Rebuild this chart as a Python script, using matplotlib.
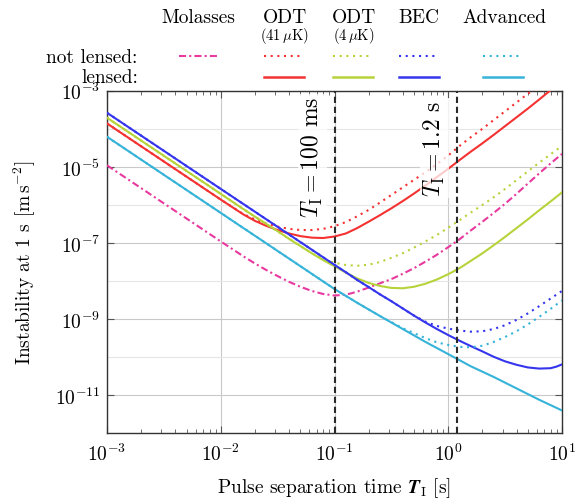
import matplotlib
matplotlib.use('Agg')
import numpy as np
import matplotlib.pyplot as plt
from matplotlib.lines import Line2D
from matplotlib.ticker import FixedLocator, LogLocator, NullFormatter

plt.rcParams['font.family'] = ['cmr10', 'DejaVu Serif']
plt.rcParams['mathtext.fontset'] = 'cm'
plt.rcParams['axes.formatter.use_mathtext'] = True
plt.rcParams['font.size'] = 14

# ---------------- data ----------------
# x: pulse separation time [s]; y given as log10 of the instability [m s^-2]
mol_x = [0.001, 0.01, 0.0158, 0.02, 0.0251, 0.0316, 0.0398, 0.0501, 0.0631, 0.0794, 0.1, 0.126, 0.158,
         0.2, 0.251, 0.316, 0.398, 0.501, 0.631, 0.794, 1.0, 1.26, 1.58, 2.0, 2.51, 3.16, 3.98, 5.01,
         6.31, 7.94, 10]
mol_log10y = [-4.96, -6.96, -7.35, -7.54, -7.71, -7.87, -8.02, -8.15, -8.26, -8.34, -8.38, -8.36, -8.28,
              -8.17, -8.06, -7.95, -7.81, -7.66, -7.49, -7.31, -7.11, -6.90, -6.67, -6.44, -6.21, -5.97,
              -5.71, -5.44, -5.17, -4.91, -4.66]

odt41_nl_x = [0.001, 0.01, 0.0158, 0.02, 0.0251, 0.0316, 0.0398, 0.0501, 0.0631, 0.0794, 0.1, 0.126,
              0.158, 0.2, 0.251, 0.316, 0.398, 0.501, 0.631, 0.794, 1.0, 1.26, 1.58, 2.0, 2.51, 3.16,
              3.98, 5.01, 5.45]
odt41_nl_log10y = [-3.86, -5.86, -6.24, -6.38, -6.49, -6.57, -6.63, -6.66, -6.66, -6.63, -6.56, -6.45,
                   -6.30, -6.13, -5.94, -5.74, -5.54, -5.34, -5.14, -4.93, -4.70, -4.45, -4.22, -4.00,
                   -3.77, -3.54, -3.31, -3.08, -3.0]
odt41_l_x = [0.001, 0.01, 0.0158, 0.02, 0.0251, 0.0316, 0.0398, 0.0501, 0.0631, 0.0794, 0.1, 0.126,
             0.158, 0.2, 0.251, 0.316, 0.398, 0.501, 0.631, 0.794, 1.0, 1.26, 1.58, 2.0, 2.51, 3.16,
             3.98, 5.01, 6.31, 7.83]
odt41_l_log10y = [-3.86, -5.86, -6.25, -6.42, -6.55, -6.66, -6.75, -6.82, -6.86, -6.87, -6.83, -6.75,
                  -6.61, -6.44, -6.27, -6.09, -5.90, -5.70, -5.49, -5.27, -5.05, -4.82, -4.60, -4.38,
                  -4.16, -3.93, -3.70, -3.47, -3.23, -3.0]

odt4_nl_x = [0.001, 0.01, 0.0158, 0.0251, 0.0398, 0.0631, 0.0794, 0.1, 0.126, 0.158, 0.2, 0.251, 0.316,
             0.398, 0.501, 0.631, 0.794, 1.0, 1.26, 1.58, 2.0, 2.51, 3.16, 3.98, 5.01, 6.31, 7.94, 10]
odt4_nl_log10y = [-3.71, -5.71, -6.11, -6.50, -6.89, -7.27, -7.42, -7.52, -7.58, -7.60, -7.57, -7.50,
                  -7.39, -7.27, -7.12, -6.96, -6.79, -6.60, -6.40, -6.20, -6.00, -5.80, -5.58, -5.35,
                  -5.12, -4.89, -4.67, -4.45]
odt4_l_x = [0.001, 0.01, 0.0158, 0.0251, 0.0316, 0.0398, 0.0501, 0.0631, 0.0794, 0.1, 0.126, 0.158, 0.2,
            0.251, 0.316, 0.398, 0.501, 0.631, 0.794, 1.0, 1.26, 1.58, 2.0, 2.51, 3.16, 3.98, 5.01, 6.31,
            7.94, 10]
odt4_l_log10y = [-3.71, -5.71, -6.11, -6.50, -6.69, -6.89, -7.08, -7.27, -7.45, -7.61, -7.78, -7.93,
                 -8.05, -8.13, -8.18, -8.19, -8.15, -8.07, -7.96, -7.82, -7.66, -7.47, -7.27, -7.06,
                 -6.84, -6.61, -6.38, -6.14, -5.91, -5.67]

bec_nl_x = [0.001, 0.01, 0.1, 0.126, 0.158, 0.2, 0.251, 0.316, 0.398, 0.501, 0.631, 0.794, 1.0, 1.26,
            1.58, 2.0, 2.51, 3.16, 3.98, 5.01, 6.31, 7.94, 10]
bec_nl_log10y = [-3.58, -5.58, -7.575, -7.77, -7.97, -8.16, -8.35, -8.53, -8.72, -8.91, -9.07, -9.18,
                 -9.25, -9.30, -9.33, -9.32, -9.26, -9.16, -9.02, -8.85, -8.66, -8.46, -8.26]
bec_l_x = [0.001, 0.01, 0.1, 0.126, 0.158, 0.2, 0.251, 0.316, 0.398, 0.501, 0.631, 0.794, 1.0, 1.26,
           1.58, 2.0, 2.51, 3.16, 3.98, 5.01, 6.31, 7.94, 8.91, 10]
bec_l_log10y = [-3.58, -5.58, -7.575, -7.77, -7.97, -8.16, -8.35, -8.53, -8.72, -8.91, -9.09, -9.26,
                -9.42, -9.57, -9.71, -9.85, -9.99, -10.11, -10.20, -10.27, -10.30, -10.29, -10.25, -10.19]

adv_nl_x = [0.001, 0.01, 0.1, 0.158, 0.251, 0.398, 0.501, 0.631, 0.794, 1.0, 1.26, 1.58, 2.0, 2.51,
            3.16, 3.98, 5.01, 6.31, 7.94, 10]
adv_nl_log10y = [-4.21, -6.21, -8.21, -8.57, -8.92, -9.24, -9.37, -9.50, -9.61, -9.68, -9.73, -9.74,
                 -9.70, -9.60, -9.47, -9.32, -9.14, -8.94, -8.73, -8.51]
adv_l_x = [0.001, 0.01, 0.1, 0.158, 0.251, 0.398, 0.631, 1.0, 1.58, 2.51, 3.98, 6.31, 10]
adv_l_log10y = [-4.21, -6.21, -8.21, -8.57, -8.92, -9.26, -9.60, -9.92, -10.24, -10.52, -10.82, -11.12,
                -11.40]

marker_times = [0.1, 1.2]
marker_labels = [r'$T_\mathrm{I} = 100$ ms', r'$T_\mathrm{I} = 1.2$ s']

col_headers = ['Molasses', 'ODT', 'ODT', 'BEC', 'Advanced']
col_subheaders = ['', r'(41$\,\mu$K)', r'(4$\,\mu$K)', '', '']
row_labels = ['not lensed:', 'lensed:']

y_major = [1e-11, 1e-9, 1e-7, 1e-5, 1e-3]
y_minor = [1e-12, 1e-10, 1e-8, 1e-6, 1e-4]

# ---------------- styles ----------------
C_MOL = '#e8399e'
C_RED = '#f43232'
C_GRN = '#b6d33a'
C_BLU = '#3535ee'
C_CYN = '#36b3d9'
LW = 1.5
DOT = (0, (1, 2.2))
DASHDOT = (0, (3.4, 1.5, 1, 1.5))

W, H = 581, 502
AX_L, AX_R, AX_T, AX_B = 107, 562, 91.7, 434.3
fig = plt.figure(figsize=(W / 100, H / 100), dpi=100)
ax = fig.add_axes([AX_L / W, 1 - AX_B / H, (AX_R - AX_L) / W, (AX_B - AX_T) / H])
ax.set_xscale('log')
ax.set_yscale('log')
ax.set_xlim(1e-3, 10)
ax.set_ylim(1e-12, 1e-3)

series = [
    (mol_x, mol_log10y, C_MOL, DASHDOT),
    (odt41_nl_x, odt41_nl_log10y, C_RED, DOT),
    (odt41_l_x, odt41_l_log10y, C_RED, '-'),
    (odt4_nl_x, odt4_nl_log10y, C_GRN, DOT),
    (odt4_l_x, odt4_l_log10y, C_GRN, '-'),
    (bec_nl_x, bec_nl_log10y, C_BLU, DOT),
    (bec_l_x, bec_l_log10y, C_BLU, '-'),
    (adv_nl_x, adv_nl_log10y, C_CYN, DOT),
    (adv_l_x, adv_l_log10y, C_CYN, '-'),
]
for xs, lys, c, ls in series:
    ax.plot(xs, np.power(10.0, lys), color=c, lw=LW, ls=ls, zorder=3)

for t in marker_times:
    ax.axvline(t, color='#2a2a2a', lw=1.5, ls=(0, (3, 1.8)), zorder=6)

label_x = [0.083, 0.975]
label_y = [1.9e-5, 3.13e-5]
for lx, ly, txt in zip(label_x, label_y, marker_labels):
    ax.text(lx, ly, txt, rotation=90, ha='right', va='center', fontsize=17, zorder=5,
            bbox=dict(boxstyle='square,pad=0.08', fc='white', ec='none', alpha=0.75))

# axes styling
ax.yaxis.set_major_locator(FixedLocator(y_major))
ax.yaxis.set_minor_locator(FixedLocator(y_minor))
ax.yaxis.set_minor_formatter(NullFormatter())
ax.xaxis.set_major_locator(LogLocator(base=10, numticks=10))
ax.xaxis.set_minor_locator(LogLocator(base=10, subs=list(range(2, 10)), numticks=20))
ax.xaxis.set_minor_formatter(NullFormatter())

ax.grid(True, which='major', axis='both', color='#c9c9c9', lw=0.8)
ax.grid(True, which='minor', axis='y', color='#e6e6e6', lw=0.8)
ax.set_axisbelow(True)

ax.tick_params(which='both', direction='in', top=True, right=True, color='#555555')
ax.tick_params(which='major', length=5, width=0.8, labelsize=14)
ax.tick_params(which='minor', length=3.2, width=0.6)
ax.tick_params(axis='y', which='minor', length=0)
ax.tick_params(axis='x', which='major', pad=7)
ax.tick_params(axis='y', which='major', pad=5)
for s in ax.spines.values():
    s.set_color('#333333')
    s.set_linewidth(1.0)

AXW = AX_R - AX_L
AXH = AX_B - AX_T
ax.set_ylabel(r'Instability at 1 s [m$\,$s$^{-2}$]', fontsize=14)
ax.yaxis.set_label_coords((25 - AX_L) / AXW, 0.5)
ax.yaxis.label.set_va('center')
xlab_bold = r'Pulse separation time $\boldsymbol{T}_\mathrm{I}$ [s]'
xlab_plain = r'Pulse separation time $\mathbf{T}_\mathrm{I}$ [s]'
ax.set_xlabel(xlab_bold, fontsize=14)
ax.xaxis.set_label_coords(0.5, (AX_B - 488) / AXH)
ax.xaxis.label.set_va('center')

# ---------------- legend table above the axes ----------------
def fx(px):
    return px / W

def fy(py):
    return 1 - py / H

head_x = [198, 284.5, 354, 419, 504]
for hx, h, sh in zip(head_x, col_headers, col_subheaders):
    fig.text(fx(hx), fy(17.8), h, ha='center', va='center', fontsize=14)
    if sh:
        fig.text(fx(hx), fy(36), sh, ha='center', va='center', fontsize=10.5)

fig.text(fx(137.8), fy(58.5), row_labels[0], ha='right', va='center', fontsize=14)
fig.text(fx(137.8), fy(77.8), row_labels[1], ha='right', va='center', fontsize=14)

Y_NL, Y_L = 57.4, 78.1
samples = [
    (179, 218.5, Y_NL, C_MOL, DASHDOT),
    (263.7, 303.7, Y_NL, C_RED, DOT), (263.7, 303.7, Y_L, C_RED, '-'),
    (333.3, 373.3, Y_NL, C_GRN, DOT), (333.3, 373.3, Y_L, C_GRN, '-'),
    (398.9, 438.9, Y_NL, C_BLU, DOT), (398.9, 438.9, Y_L, C_BLU, '-'),
    (483.3, 523.3, Y_NL, C_CYN, DOT), (483.3, 523.3, Y_L, C_CYN, '-'),
]
for x0, x1, yy, c, ls in samples:
    fig.add_artist(Line2D([fx(x0), fx(x1)], [fy(yy), fy(yy)], transform=fig.transFigure,
                          color=c, lw=LW + 0.3 if ls == '-' else LW, ls=ls))

try:
    fig.savefig('out.png', dpi=100)
except Exception:
    ax.set_xlabel(xlab_plain, fontsize=14)
    ax.xaxis.set_label_coords(0.5, (AX_B - 488) / AXH)
    ax.xaxis.label.set_va('center')
    fig.savefig('out.png', dpi=100)
